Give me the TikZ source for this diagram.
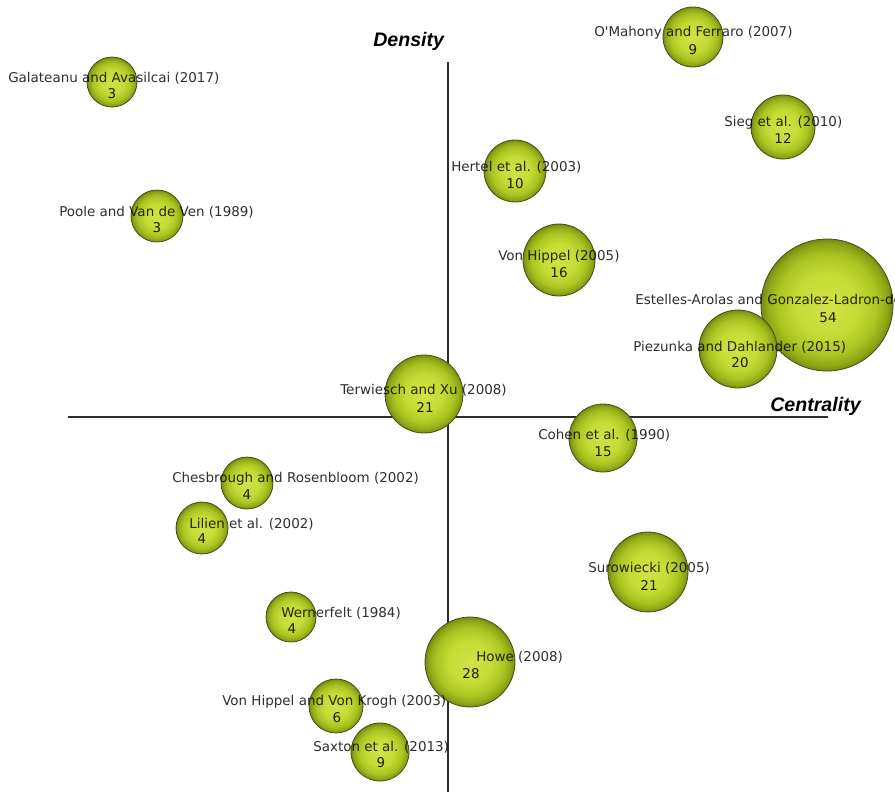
\documentclass[tikz,border=0pt]{standalone}
\usepackage{fontspec}
\setmainfont{DejaVu Sans}
\newfontfamily\axisfont{Liberation Sans}

% radial fill of the bubbles: light yellow-green core, olive rim
\pgfdeclareradialshading{bubblefill}{\pgfpoint{0bp}{0bp}}{%
  rgb(0bp)=(0.82,0.89,0.28);
  rgb(12bp)=(0.77,0.86,0.21);
  rgb(19bp)=(0.67,0.77,0.13);
  rgb(23bp)=(0.56,0.65,0.09);
  rgb(25bp)=(0.46,0.54,0.06);
  rgb(50bp)=(0.46,0.54,0.06)}

\definecolor{axisgray}{RGB}{45,45,45}
\definecolor{rimcol}{RGB}{70,80,25}

\tikzset{
  bubble/.style={circle, draw=rimcol, line width=0.6pt, shade, shading=bubblefill,
                 inner sep=0pt, minimum size=#1*1.5pt},
  lab/.style={anchor=west, inner sep=0pt, font=\fontsize{10.1}{11}\selectfont,
              text=black, text opacity=0.82},
  num/.style={inner sep=0pt, font=\fontsize{10.1}{11}\selectfont,
              text=black, text opacity=0.86},
  axisline/.style={draw=axisgray, line width=1pt},
  axislab/.style={anchor=base west, inner sep=0pt,
                  font=\axisfont\bfseries\itshape\fontsize{14.7}{16}\selectfont}
}

\begin{document}
\begin{tikzpicture}[x=0.75pt, y=-0.75pt]
\useasboundingbox (0,0) rectangle (895,792);
\clip (0,0) rectangle (895,792);

% axes
\coordinate (ytop) at (448,62);
\coordinate (ybot) at (448,792);
\coordinate (xleft) at (68,417);
\coordinate (xright) at (828,417);
\draw[axisline] (xleft) -- (xright);
\draw[axisline] (ytop) -- (ybot);
\node[axislab] (density) at (373,47) {Density};
\node[axislab] (centrality) at (770,411) {Centrality};

% bubbles
\node[bubble=25] (gal)   at (112,82)  {};
\node[bubble=30] (oma)   at (693,37)  {};
\node[bubble=32] (sieg)  at (783,127) {};
\node[bubble=31] (hert)  at (515,171) {};
\node[bubble=26] (poole) at (157,216) {};
\node[bubble=36] (vhip)  at (559,260) {};
\node[bubble=66] (este)  at (827,305) {};
\node[bubble=39] (piez)  at (738,349) {};
\node[bubble=39] (terw)  at (424,394) {};
\node[bubble=34] (cohen) at (603,438) {};
\node[bubble=26] (ches)  at (247,483) {};
\node[bubble=26] (lil)   at (202,528) {};
\node[bubble=40] (suro)  at (648,572) {};
\node[bubble=25] (wern)  at (291,617) {};
\node[bubble=45] (howe)  at (470,662) {};
\node[bubble=27] (vhvk)  at (336,706) {};
\node[bubble=29] (sax)   at (380,752) {};

% labels
\node[lab] (gal-l)   at (8,78)    {Galateanu and Avasilcai (2017)};
\node[lab] (oma-l)   at (594,33)  {O\textquotesingle Mahony and Ferraro (2007)};
\node[lab] (sieg-l)  at (724,123) {Sieg et al. (2010)};
\node[lab] (hert-l)  at (451,167) {Hertel et al. (2003)};
\node[lab] (poole-l) at (59,212)  {Poole and Van de Ven (1989)};
\node[lab] (vhip-l)  at (498,257) {Von Hippel (2005)};
\node[lab] (este-l)  at (635,300) {Estelles-Arolas and Gonzalez-Ladron-de-Guevara (2012)};
\node[lab] (piez-l)  at (633,347) {Piezunka and Dahlander (2015)};
\node[lab] (terw-l)  at (340,390) {Terwiesch and Xu (2008)};
\node[lab] (cohen-l) at (538,435) {Cohen et al. (1990)};
\node[lab] (ches-l)  at (172,479) {Chesbrough and Rosenbloom (2002)};
\node[lab] (lil-l)   at (189,524) {Lilien et al. (2002)};
\node[lab] (suro-l)  at (588,568) {Surowiecki (2005)};
\node[lab] (wern-l)  at (281,613) {Wernerfelt (1984)};
\node[lab] (howe-l)  at (476,657) {Howe (2008)};
\node[lab] (vhvk-l)  at (222,702) {Von Hippel and Von Krogh (2003)};
\node[lab] (sax-l)   at (313,747) {Saxton et al. (2013)};

% citation counts
\node[num] (gal-n)   at (112,94)  {3};
\node[num] (oma-n)   at (693,50)  {9};
\node[num] (sieg-n)  at (783,139) {12};
\node[num] (hert-n)  at (515,184) {10};
\node[num] (poole-n) at (157,228) {3};
\node[num] (vhip-n)  at (559,273) {16};
\node[num] (este-n)  at (828,318) {54};
\node[num] (piez-n)  at (740,363) {20};
\node[num] (terw-n)  at (425,407) {21};
\node[num] (cohen-n) at (603,452) {15};
\node[num] (ches-n)  at (247,495) {4};
\node[num] (lil-n)   at (202,539) {4};
\node[num] (suro-n)  at (649,585) {21};
\node[num] (wern-n)  at (292,629) {4};
\node[num] (howe-n)  at (471,674) {28};
\node[num] (vhvk-n)  at (337,718) {6};
\node[num] (sax-n)   at (381,763) {9};
\end{tikzpicture}
\end{document}
